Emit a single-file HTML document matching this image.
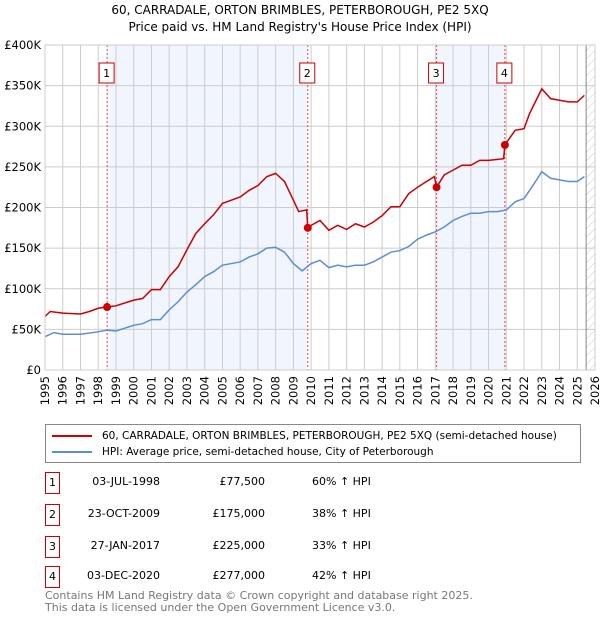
<!DOCTYPE html>
<html><head><meta charset="utf-8"><style>
body{margin:0;background:#fff;font-family:"DejaVu Sans","Liberation Sans",sans-serif;}
#wrap{position:relative;width:600px;height:620px;overflow:hidden}
.t{position:absolute;font-size:11px;color:#000;white-space:nowrap}
.box{position:absolute;border:1px solid #c00;width:13px;height:20px;text-align:center;line-height:20px;font-size:11px}
</style></head><body><div id="wrap">
<svg id="chart" width="600" height="420" style="position:absolute;left:0;top:0">
<defs><pattern id="hatch" width="6" height="6" patternUnits="userSpaceOnUse" patternTransform="rotate(45)"><line x1="0" y1="0" x2="0" y2="6" stroke="#ccc" stroke-width="1"/></pattern></defs>
<text x="300" y="14" text-anchor="middle" font-size="12" font-family="DejaVu Sans, sans-serif">60, CARRADALE, ORTON BRIMBLES, PETERBOROUGH, PE2 5XQ</text>
<text x="300" y="31" text-anchor="middle" font-size="12" font-family="DejaVu Sans, sans-serif">Price paid vs. HM Land Registry's House Price Index (HPI)</text>
<g id="g"></g>
</svg>
<div class="t" style="left:45px;top:424px;width:534px;height:37px;border:1px solid #888;">
<div style="position:absolute;left:6px;top:4px"><span style="display:inline-block;width:40px;height:2px;background:#c00;vertical-align:middle;margin-right:10px"></span><span style="font-size:10.5px">60, CARRADALE, ORTON BRIMBLES, PETERBOROUGH, PE2 5XQ (semi-detached house)</span></div>
<div style="position:absolute;left:6px;top:20px"><span style="display:inline-block;width:40px;height:2px;background:#5b8dd6;vertical-align:middle;margin-right:10px"></span><span style="font-size:10.5px">HPI: Average price, semi-detached house, City of Peterborough</span></div>
</div>
<div id="rows"></div>
<div class="t" style="left:45px;top:590px;font-size:11px;color:#777;line-height:12px">Contains HM Land Registry data © Crown copyright and database right 2025.<br>This data is licensed under the Open Government Licence v3.0.</div>
</div>
<script>
const hpiYears=[1995,1995.5,1996,1997,1998,1998.5,1999,2000,2000.5,2001,2001.5,2002,2002.5,2003,2003.5,2004,2004.5,2005,2005.5,2006,2006.5,2007,2007.5,2008,2008.5,2009,2009.5,2010,2010.5,2011,2011.5,2012,2012.5,2013,2013.5,2014,2014.5,2015,2015.5,2016,2016.5,2017,2017.5,2018,2018.5,2019,2019.5,2020,2020.5,2021,2021.5,2022,2022.5,2023,2023.5,2024,2024.5,2025,2025.4];
const hpiValues=[41,46,44,44,47,49,48,55,57,62,62,74,84,96,105,115,121,129,131,133,139,143,150,151,145,131,122,131,135,126,129,127,129,129,133,139,145,147,152,161,166,170,176,184,189,193,193,195,195,197,207,211,227,244,236,234,232,232,238];
const priceYears=[1995,1995.3,1996,1997,1997.5,1998,1998.5,1999,2000,2000.5,2001,2001.5,2002,2002.5,2003,2003.5,2004,2004.5,2005,2005.5,2006,2006.5,2007,2007.5,2008,2008.5,2009,2009.3,2009.75,2009.81,2010,2010.5,2011,2011.5,2012,2012.5,2013,2013.5,2014,2014.5,2015,2015.5,2016,2016.5,2016.95,2017.07,2017.5,2018,2018.5,2019,2019.5,2020,2020.85,2020.92,2021.5,2022,2022.3,2022.5,2023,2023.5,2024,2024.5,2025,2025.4];
const priceValues=[66,72,70,69,72,76,77.5,79,86,88,99,99,115,127,148,168,180,191,205,209,213,221,227,238,242,232,209,195,197,175,178,184,172,178,173,180,176,182,190,201,201,217,225,232,238,225,240,246,252,252,258,258,260,277,295,297,315,324,346,334,332,330,330,338];
const saleLabels=["1","2","3","4"];
const saleYears=[1998.5,2009.81,2017.07,2020.92];
const saleValues=[77.5,175,225,277];
const saleDates=["03-JUL-1998","23-OCT-2009","27-JAN-2017","03-DEC-2020"];
const salePrices=["£77,500","£175,000","£225,000","£277,000"];
const salePct=["60% ↑ HPI","38% ↑ HPI","33% ↑ HPI","42% ↑ HPI"];
const yTicks=[0,50,100,150,200,250,300,350,400];
const yTickLabels=["£0","£50K","£100K","£150K","£200K","£250K","£300K","£350K","£400K"];
const xTicks=[];for(let y=1995;y<=2026;y++)xTicks.push(y);

const L=45,R=595,T=45,B=370;
const x=v=>L+(v-1995)/31*(R-L);
const y=v=>B-v/400*(B-T);
const NS="http://www.w3.org/2000/svg";
const g=document.getElementById('g');
const FF='DejaVu Sans, sans-serif';
function mk(t,a){const e=document.createElementNS(NS,t);for(const k in a)e.setAttribute(k,a[k]);g.appendChild(e);return e;}
let e;
e=mk('rect',{x:L,y:T,width:R-L,height:B-T,fill:'#fff'});


for(const [a,b] of [[0,1],[2,3]]){e=mk('rect',{x:x(saleYears[a]),y:T,width:x(saleYears[b])-x(saleYears[a]),height:B-T,fill:'#eef3fd',opacity:0.8});

}
e=mk('rect',{x:x(2025.5),y:T,width:R-x(2025.5),height:B-T,fill:'url(#hatch)'});


xTicks.forEach(v=>{e=mk('line',{x1:x(v),x2:x(v),y1:T,y2:B,stroke:'#ccc'});


e=mk('text',{transform:`translate(${x(v)+4},${B+6}) rotate(-90)`,'text-anchor':'end','font-size':11.5,'font-family':FF});e.textContent=v;

});
yTicks.forEach((v,i)=>{e=mk('line',{x1:L,x2:R,y1:y(v),y2:y(v),stroke:'#ccc'});


e=mk('text',{x:L-4,y:y(v)+4,'text-anchor':'end','font-size':11.5,'font-family':FF});e.textContent=yTickLabels[i];

});
e=mk('line',{x1:x(2025.5),x2:x(2025.5),y1:T,y2:B,stroke:'#888'});


saleYears.forEach((s,i)=>{e=mk('line',{x1:x(s),x2:x(s),y1:T,y2:B,stroke:'#e44','stroke-dasharray':'2,2'});


e=mk('rect',{x:x(s)-8,y:63,width:15,height:20,fill:'#fff',stroke:'#c00'});


e=mk('text',{x:x(s)-0.5,y:77,'text-anchor':'middle','font-size':11,'font-family':FF});e.textContent=saleLabels[i];

});
e=mk('polyline',{points:hpiYears.map((v,i)=>x(v)+','+y(hpiValues[i])).join(' '),fill:'none',stroke:'#5b8dd6','stroke-width':1.5});


e=mk('polyline',{points:priceYears.map((v,i)=>x(v)+','+y(priceValues[i])).join(' '),fill:'none',stroke:'#c00','stroke-width':1.5});


saleYears.forEach((s,i)=>{e=mk('circle',{cx:x(s),cy:y(saleValues[i]),r:4,fill:'#c00'});

});
e=mk('rect',{x:L,y:T,width:R-L,height:B-T,fill:'none',stroke:'#ccc'});



const rows=document.getElementById('rows');
const rowY=[472,504,536,566];
saleLabels.forEach((l,i)=>{
 const d=document.createElement('div');
 
 
 d.style.cssText=`position:absolute;left:0;top:${rowY[i]}px;width:600px;height:22px`;
 d.innerHTML=`<div class="box" style="left:45px;top:0">${l}</div><div class="t" style="left:60px;width:100px;text-align:right;top:3px">${saleDates[i]}</div><div class="t" style="left:165px;width:100px;text-align:right;top:3px">${salePrices[i]}</div><div class="t" style="left:312px;top:3px">${salePct[i]}</div>`;
 rows.appendChild(d);
});
</script></body></html>
